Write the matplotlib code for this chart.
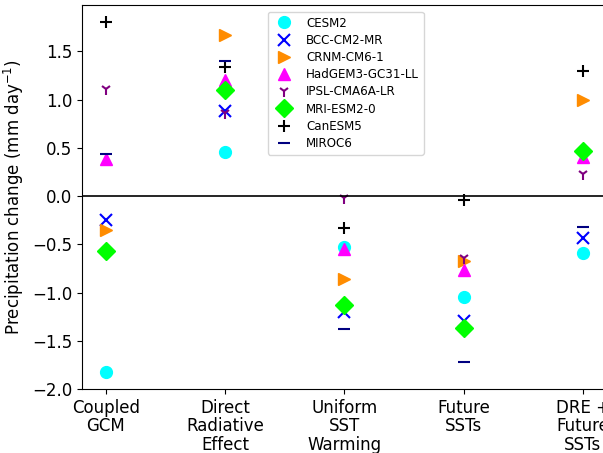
import numpy as np
import matplotlib.pyplot as plt

experiments = ["Coupled\nGCM", "Direct\nRadiative\nEffect", "Uniform\nSST\nWarming",
               "Future\nSSTs", "DRE +\nFuture\nSSTs"]

models = ["CESM2", "BCC-CM2-MR", "CRNM-CM6-1", "HadGEM3-GC31-LL",
          "IPSL-CMA6A-LR", "MRI-ESM2-0", "CanESM5", "MIROC6"]

# precipitation change per experiment (mm/day)
cesm2 = [-1.82, 0.46, -0.53, -1.05, -0.59]
bcc = [-0.25, 0.88, -1.20, -1.29, -0.43]
crnm = [-0.35, 1.67, -0.86, -0.67, 1.00]
hadgem = [0.38, 1.20, -0.55, -0.77, 0.41]
ipsl = [1.11, 0.86, -0.02, -0.64, 0.23]
mri = [-0.57, 1.10, -1.13, -1.37, 0.47]
canesm = [1.80, 1.34, -0.33, -0.04, 1.30]
miroc = [0.435, 1.40, -1.38, -1.72, -0.32]

series = [cesm2, bcc, crnm, hadgem, ipsl, mri, canesm, miroc]
markers = ["o", "x", ">", "^", "1", "D", "+", "_"]
colors = ["cyan", "blue", "darkorange", "magenta", "purple", "lime", "black", "navy"]
sizes = [8.5, 8, 9, 8, 8, 9, 8, 8]
widths = [1, 1.5, 1, 1, 1.5, 1, 1.5, 1.5]

fig = plt.figure(figsize=(6.03, 4.53), dpi=100)
ax = fig.add_axes([0.136, 0.141, 0.870, 0.848])

x = np.arange(len(experiments))
for vals, name, m, c, s, w in zip(series, models, markers, colors, sizes, widths):
    ax.plot(x, vals, linestyle="none", marker=m, color=c, markersize=s,
            markeredgewidth=w, label=name)

ax.axhline(0, color="black", linewidth=1.2)
ax.set_xlim(-0.2, 4.2)
ax.set_ylim(-2.0, 1.98)
ax.set_yticks([-2.0, -1.5, -1.0, -0.5, 0.0, 0.5, 1.0, 1.5])
ax.set_xticks(x)
ax.set_xticklabels(experiments, fontsize=12, linespacing=1.03)
ax.tick_params(axis="y", labelsize=12)
ax.set_ylabel("Precipitation change (mm day$^{-1}$)", fontsize=12)

ax.legend(loc="upper left", bbox_to_anchor=(0.354, 0.982), borderaxespad=0,
          fontsize=8.6, labelspacing=0.35)

fig.savefig("out.png", dpi=100)
